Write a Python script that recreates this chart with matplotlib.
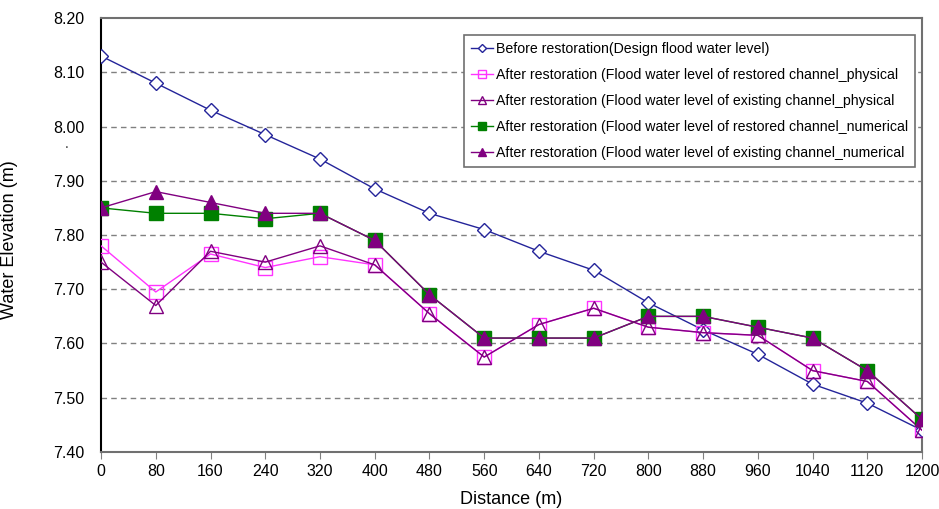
import matplotlib
matplotlib.use('Agg')
import matplotlib.pyplot as plt

distance = [0, 80, 160, 240, 320, 400, 480, 560, 640, 720, 800, 880, 960, 1040, 1120, 1200]

before = [8.13, 8.08, 8.03, 7.985, 7.94, 7.885, 7.84, 7.81, 7.77, 7.735,
          7.675, 7.625, 7.58, 7.525, 7.49, 7.44]
restored_phys = [7.78, 7.695, 7.765, 7.74, 7.76, 7.745, 7.655, 7.575, 7.635, 7.665,
                 7.63, 7.62, 7.615, 7.55, 7.53, 7.44]
existing_phys = [7.75, 7.67, 7.77, 7.75, 7.78, 7.745, 7.655, 7.575, 7.635, 7.665,
                 7.63, 7.62, 7.615, 7.55, 7.53, 7.44]
restored_num = [7.85, 7.84, 7.84, 7.83, 7.84, 7.79, 7.69, 7.61, 7.61, 7.61,
                7.65, 7.65, 7.63, 7.61, 7.55, 7.46]
existing_num = [7.85, 7.88, 7.86, 7.84, 7.84, 7.79, 7.69, 7.61, 7.61, 7.61,
                7.65, 7.65, 7.63, 7.61, 7.55, 7.46]

labels = ['Before restoration(Design flood water level)',
          'After restoration (Flood water level of restored channel_physical',
          'After restoration (Flood water level of existing channel_physical',
          'After restoration (Flood water level of restored channel_numerical',
          'After restoration (Flood water level of existing channel_numerical']

plt.rcParams['font.family'] = ['Liberation Sans', 'DejaVu Sans']

fig = plt.figure(figsize=(9.39, 5.09), dpi=100)
ax = fig.add_axes([0.1076, 0.112, 0.8744, 0.8526])

navy = '#24249a'
magenta = '#ff33ff'
purple = '#800080'
green = '#008000'

ax.plot(distance, before, color=navy, lw=1, marker='D', ms=7, mfc='white', mec=navy,
        mew=1, label=labels[0], zorder=3)
ax.plot(distance, restored_phys, color=magenta, lw=1, marker='s', ms=10, mfc='none',
        mec=magenta, mew=1, label=labels[1], zorder=3)
ax.plot(distance, existing_phys, color=purple, lw=1, marker='^', ms=10, mfc='none',
        mec=purple, mew=1, label=labels[2], zorder=4)
ax.plot(distance, restored_num, color=green, lw=1, marker='s', ms=10, mfc=green,
        mec=green, label=labels[3], zorder=5)
ax.plot(distance, existing_num, color=purple, lw=1, marker='^', ms=10, mfc=purple,
        mec=purple, label=labels[4], zorder=6)

ax.set_xlim(0, 1200)
ax.set_ylim(7.40, 8.20)
ax.set_xticks(distance)
ax.set_yticks([7.40, 7.50, 7.60, 7.70, 7.80, 7.90, 8.00, 8.10, 8.20])
ax.yaxis.set_major_formatter(matplotlib.ticker.FormatStrFormatter('%.2f'))
for y in [7.5, 7.6, 7.7, 7.8, 7.9, 8.0, 8.1]:
    ax.axhline(y, color='#808080', lw=1, ls=(0, (4, 3)), zorder=1)

ax.tick_params(axis='x', direction='out', length=5, color='#808080', labelsize=11.5, pad=4)
ax.tick_params(axis='y', length=0, labelsize=11.5, pad=12)
ax.spines['left'].set_color('black')
ax.spines['left'].set_linewidth(1.5)
for s in ['top', 'right', 'bottom']:
    ax.spines[s].set_color('#707070')
    ax.spines[s].set_linewidth(1.5)

ax.set_xlabel('Distance (m)', fontsize=13)
ax.xaxis.set_label_coords(0.5, -0.09)
ax.set_ylabel('Water Elevation (m)', fontsize=13)
ax.yaxis.set_label_coords(-0.101, 0.49)
fig.text(0.069, 0.71, '.', fontsize=10, color='#333333')

leg = ax.legend(loc='upper right', bbox_to_anchor=(0.991, 0.962), fontsize=10.2,
                markerscale=0.6, handlelength=1.5, handletextpad=0.2,
                borderpad=0.5, labelspacing=0.85, fancybox=False, framealpha=1,
                edgecolor='#707070', borderaxespad=0)
leg.get_frame().set_linewidth(1.2)

fig.savefig('out.png', dpi=100)
